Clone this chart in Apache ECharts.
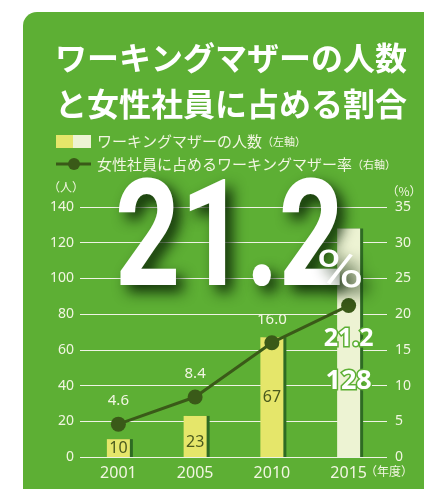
<!DOCTYPE html>
<html>
<head>
<meta charset="utf-8">
<script src="https://cdn.jsdelivr.net/npm/echarts@6/dist/echarts.min.js"></script>
<style>
  html, body { margin: 0; padding: 0; background: #fff; }
  #main { width: 424px; height: 489px; }
</style>
</head>
<body>
<div id="main"></div>
<script>
  // 年度
  var years = ['2001', '2005', '2010', '2015']
  // ワーキングマザーの人数（左軸）
  var motherCount = [10, 23, 67, 128]
  // 女性社員に占めるワーキングマザー率（右軸）
  var motherRate = [4.6, 8.4, 16.0, 21.2]
  var leftTicks = { min: 0, max: 140, interval: 20 }
  var rightTicks = { min: 0, max: 35, interval: 5 }

  var green = '#5DAF34'
  var dark = '#3A5A18'
  var light = '#F2F6E2'
  var jp = '"Noto Sans CJK JP"'

  var barData = motherCount.map(function (v, i) {
    var last = i === motherCount.length - 1
    var item = {
      value: v,
      itemStyle: { color: last ? '#EDF3D3' : '#E5E66A' }
    }
    if (i === 1) {
      item.label = { position: 'insideBottom', distance: 7 }
    }
    if (last) {
      item.label = {
        position: 'insideBottom', distance: 62,
        color: '#fff', fontSize: 27, fontWeight: 'bold',
        textBorderColor: green, textBorderWidth: 3
      }
    }
    return item
  })

  var lineData = motherRate.map(function (v, i) {
    if (i === motherRate.length - 1) {
      return {
        value: v,
        label: {
          position: 'bottom', distance: 13,
          color: '#fff', fontSize: 25, fontWeight: 'bold',
          textBorderColor: green, textBorderWidth: 3
        }
      }
    }
    return v
  })

  // 大きな「21.2%」の影
  var bigShadow = {
    shadowColor: 'rgba(12,38,6,0.95)', shadowBlur: 14, shadowOffsetX: 7, shadowOffsetY: 7,
    textShadowColor: 'rgba(12,38,6,0.95)', textShadowBlur: 14, textShadowOffsetX: 7, textShadowOffsetY: 7
  }

  var option = {
    backgroundColor: '#fff',
    animation: false,
    grid: { left: 80, right: 37, top: 207, bottom: 32 },
    xAxis: {
      type: 'category',
      data: years,
      axisLine: { show: false },
      axisTick: { show: false },
      axisLabel: { color: light, fontSize: 16, margin: 8, fontFamily: 'Noto Sans' }
    },
    yAxis: [
      {
        type: 'value',
        min: leftTicks.min, max: leftTicks.max, interval: leftTicks.interval,
        axisLine: { show: false },
        axisTick: { show: false },
        axisLabel: { color: light, fontSize: 14, margin: 6, fontFamily: 'Noto Sans' },
        splitLine: { lineStyle: { color: '#EEF3E4', width: 1 } }
      },
      {
        type: 'value',
        min: rightTicks.min, max: rightTicks.max, interval: rightTicks.interval,
        axisLine: { show: false },
        axisTick: { show: false },
        axisLabel: { color: light, fontSize: 14, margin: 8, fontFamily: 'Noto Sans' },
        splitLine: { show: false }
      }
    ],
    series: [
      {
        name: 'ワーキングマザーの人数',
        type: 'bar',
        barWidth: 23,
        data: barData,
        itemStyle: {
          shadowColor: '#2E6B23',
          shadowBlur: 0,
          shadowOffsetX: 3,
          shadowOffsetY: 0
        },
        label: {
          show: true,
          position: 'inside',
          color: '#4A5A1E',
          fontSize: 16,
          fontFamily: 'Noto Sans'
        }
      },
      {
        name: '女性社員に占めるワーキングマザー率',
        type: 'line',
        yAxisIndex: 1,
        data: lineData,
        symbol: 'circle',
        symbolSize: 15,
        lineStyle: { color: dark, width: 3 },
        itemStyle: { color: dark },
        label: {
          show: true,
          position: 'top',
          distance: 8,
          color: light,
          fontSize: 15,
          fontFamily: 'Noto Sans',
          formatter: function (p) { return p.value.toFixed(1) }
        },
        z: 4
      }
    ],
    graphic: [
      // 背景
      {
        type: 'rect', z: -10, silent: true,
        shape: { x: 23, y: 12, width: 440, height: 520, r: 14 },
        style: { fill: green }
      },
      // タイトル
      {
        type: 'text', z: 10,
        style: {
          x: 55, y: 58, text: 'ワーキングマザーの人数',
          font: 'bold 32px ' + jp, fill: '#fff', verticalAlign: 'middle'
        }
      },
      {
        type: 'text', z: 10,
        style: {
          x: 55, y: 104, text: 'と女性社員に占める割合',
          font: 'bold 32px ' + jp, fill: '#fff', verticalAlign: 'middle'
        }
      },
      // 凡例
      { type: 'rect', z: 10, shape: { x: 56, y: 135, width: 17, height: 13 }, style: { fill: '#E5E66A' } },
      { type: 'rect', z: 10, shape: { x: 73, y: 135, width: 18, height: 13 }, style: { fill: '#EDF3D3' } },
      {
        type: 'text', z: 10,
        style: { x: 97, y: 141, text: 'ワーキングマザーの人数', font: '15px ' + jp, fill: light, verticalAlign: 'middle' }
      },
      {
        type: 'text', z: 10,
        style: { x: 262, y: 142, text: '（左軸）', font: '11px ' + jp, fill: light, verticalAlign: 'middle' }
      },
      { type: 'line', z: 10, shape: { x1: 56, y1: 164, x2: 91, y2: 164 }, style: { stroke: dark, lineWidth: 3 } },
      { type: 'circle', z: 10, shape: { cx: 74, cy: 164, r: 6 }, style: { fill: dark } },
      {
        type: 'text', z: 10,
        style: { x: 97, y: 164, text: '女性社員に占めるワーキングマザー率', font: '15px ' + jp, fill: light, verticalAlign: 'middle' }
      },
      {
        type: 'text', z: 10,
        style: { x: 352, y: 165, text: '（右軸）', font: '11px ' + jp, fill: light, verticalAlign: 'middle' }
      },
      // 軸の単位
      {
        type: 'text', z: 10,
        style: { x: 66, y: 187, text: '（人）', font: '12px ' + jp, fill: light, align: 'center', verticalAlign: 'middle' }
      },
      {
        type: 'text', z: 10,
        style: { x: 404, y: 191, text: '（%）', font: '12px ' + jp, fill: light, align: 'center', verticalAlign: 'middle' }
      },
      {
        type: 'text', z: 10,
        style: { x: 389, y: 471, text: '（年度）', font: '12px ' + jp, fill: light, align: 'center', verticalAlign: 'middle' }
      },
      // 21.2%
      {
        type: 'text', z: 20, x: 115, y: 248, scaleX: 0.77,
        style: Object.assign({
          x: 0, y: 0, text: '21.2', font: 'bold 148px Roboto', fill: '#fff',
          verticalAlign: 'middle'
        }, bigShadow)
      },
      {
        type: 'text', z: 20, x: 316, y: 274, scaleX: 1.25,
        style: Object.assign({
          x: 0, y: 0, text: '%', font: '52px Roboto', fill: '#fff',
          verticalAlign: 'middle'
        }, bigShadow)
      }
    ]
  }

  var myChart = echarts.init(document.getElementById('main'), null, { renderer: 'canvas' })
  myChart.setOption(option)
</script>
</body>
</html>
